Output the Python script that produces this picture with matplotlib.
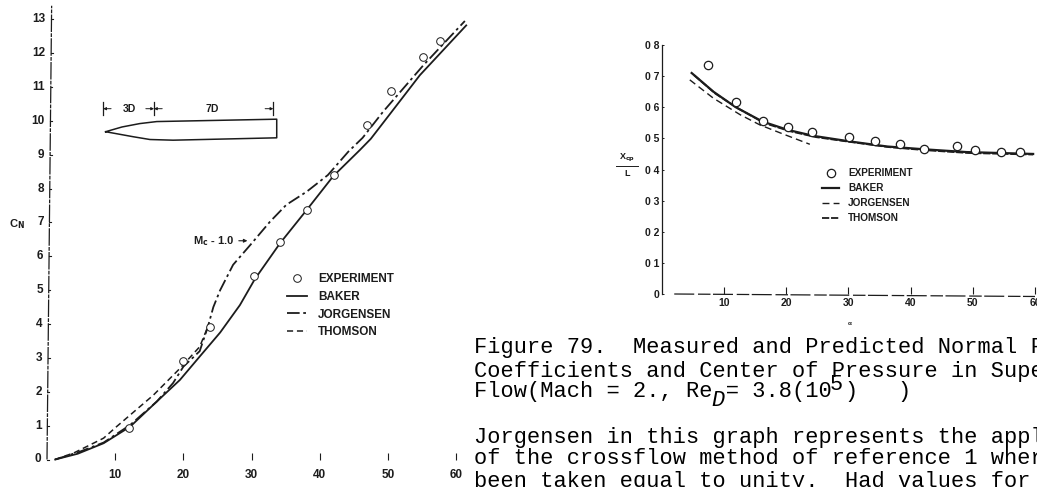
import matplotlib
matplotlib.use('Agg')
import matplotlib.pyplot as plt

W, H = 1037, 487

# left graph: normal force
exp_a = [12.1, 20.0, 23.9, 30.3, 34.2, 38.2, 42.1, 46.9, 50.5, 55.2, 57.6]
exp_cn = [0.94, 2.91, 3.92, 5.41, 6.43, 7.38, 8.40, 9.87, 10.89, 11.89, 12.36]
baker_a = [1.2, 4.5, 8.3, 12.2, 16.1, 19.5, 22.4, 25.4, 28.3, 30.5, 34.2, 38.1, 42.0, 45.9, 47.5, 50.3, 54.7, 61.5]
baker_cn = [0.0, 0.17, 0.48, 0.97, 1.71, 2.35, 3.04, 3.75, 4.56, 5.33, 6.39, 7.37, 8.37, 9.14, 9.47, 10.20, 11.35, 12.82]
jorg_a = [1.2, 4.8, 8.3, 12.2, 16.1, 18.5, 20.0, 22.4, 23.6, 24.4, 25.4, 27.3, 29.8, 32.7, 35.1, 38.1, 41.2, 44.2, 46.3, 49.3, 55.2, 61.3]
jorg_cn = [0.0, 0.23, 0.50, 1.02, 1.71, 2.26, 2.74, 3.20, 3.92, 4.50, 5.00, 5.75, 6.33, 7.02, 7.52, 7.91, 8.40, 9.09, 9.50, 10.27, 11.64, 12.95]
thom_a = [1.2, 4.0, 8.3, 10.2, 15.6, 19.5, 22.4, 23.6]
thom_cn = [0.0, 0.20, 0.63, 0.97, 1.90, 2.69, 3.33, 3.92]

# right graph: center of pressure
exp_b = [7.4, 11.9, 16.2, 20.3, 24.1, 30.1, 34.3, 38.3, 42.2, 47.4, 50.4, 54.6, 57.6]
exp_xcp = [0.736, 0.618, 0.556, 0.535, 0.520, 0.506, 0.490, 0.481, 0.467, 0.474, 0.463, 0.457, 0.457]
baker_b = [4.8, 8.3, 11.9, 16.2, 20.3, 24.4, 30.3, 36.2, 42.1, 49.0, 59.7]
baker_xcp = [0.710, 0.650, 0.600, 0.554, 0.527, 0.508, 0.490, 0.474, 0.465, 0.456, 0.450]
thom_b = [5.2, 8.6, 12.2, 16.5, 20.6, 24.8, 30.5, 36.5, 42.4, 49.3, 59.7]
thom_xcp = [0.703, 0.644, 0.597, 0.549, 0.523, 0.504, 0.488, 0.472, 0.462, 0.453, 0.448]
jorg_b = [4.5, 8.3, 12.6, 15.8, 19.5, 23.8]
jorg_xcp = [0.688, 0.629, 0.576, 0.543, 0.514, 0.481]

# ogive cylinder sketch, in left graph units
body_a = [8.6, 11.0, 13.6, 16.1, 33.7, 33.7, 18.5, 15.1, 12.7, 8.6]
body_cn = [9.68, 9.82, 9.92, 9.98, 10.05, 9.50, 9.43, 9.45, 9.53, 9.68]

left_xticks = [10, 20, 30, 40, 50, 60]
left_yticks = list(range(14))
right_yticks = [0, 0.1, 0.2, 0.3, 0.4, 0.5, 0.6, 0.7, 0.8]
right_ylabels = ['0', '0 1', '0 2', '0 3', '0 4', '0 5', '0 6', '0 7', '0 8']

caption = ['Figure 79.  Measured and Predicted Normal F',
           'Coefficients and Center of Pressure in Supe',
           'Flow(Mach = 2., Re = 3.8(10 )   )']
body_text = ['Jorgensen in this graph represents the appl',
             'of the crossflow method of reference 1 wher',
             'been taken equal to unity.  Had values for']

plt.rcParams['font.family'] = ['Liberation Sans', 'DejaVu Sans']
plt.rcParams['font.weight'] = 'bold'
INK = '#1c1c1c'
MONO = ['Liberation Mono', 'DejaVu Sans Mono']
PITCH = 13.17


def px_axes(fig, x0, x1, y0, y1):
    return fig.add_axes([x0 / W, 1 - y0 / H, (x1 - x0) / W, (y0 - y1) / H])


fig = plt.figure(figsize=(W / 100, H / 100), dpi=100)

# left graph
ax = px_axes(fig, 47, 456, 459.5, 19.3)
ax.set_xlim(0, 60)
ax.set_ylim(0, 13)
for s in ax.spines.values():
    s.set_visible(False)
ax.plot([0, 0.68], [0, 13.4], color=INK, lw=0.9, ls=(0, (14, 1, 3, 1)), clip_on=False)
ax.set_xticks(left_xticks)
ax.set_yticks([])
ax.tick_params(axis='x', direction='in', length=5, width=0.8, color=INK, labelsize=8.5, pad=7, labelcolor=INK)
for v in left_yticks:
    ax.text(-0.85 + v * 0.05, v, str(v), ha='right', va='center', fontsize=8.5, color=INK)
    ax.plot([v * 0.05, v * 0.05 + 0.25], [v, v], color=INK, lw=0.8, clip_on=False)

ax.plot(baker_a, baker_cn, color=INK, lw=1.3, clip_on=False, label='BAKER')
ax.plot(jorg_a, jorg_cn, color=INK, lw=1.3, ls=(0, (7, 2, 1.5, 2)), clip_on=False, label='JORGENSEN')
ax.plot(thom_a, thom_cn, color=INK, lw=1.1, ls=(0, (4, 2.5)), clip_on=False, label='THOMSON')
ax.plot(exp_a, exp_cn, 'o', mfc='white', mec=INK, mew=0.7, ms=5.5, ls='none', clip_on=False, label='EXPERIMENT')
handles, labels = ax.get_legend_handles_labels()
order = [3, 0, 1, 2]
ax.legend([handles[i] for i in order], [labels[i] for i in order], frameon=False, fontsize=8.5,
          loc='lower left', bbox_to_anchor=(0.587, 0.275), handlelength=1.7, handletextpad=0.9,
          labelspacing=0.5, borderpad=0, borderaxespad=0, labelcolor=INK)

ax.plot(body_a, body_cn, color=INK, lw=1.1)
ax.text(-4.4, 6.95, 'C$_{\\mathbf{N}}$', fontsize=8, ha='center', va='center', color=INK)
ax.text(12.05, 10.36, '3D', fontsize=7.5, ha='center', va='center', color=INK)
ax.text(24.2, 10.36, '7D', fontsize=7.5, ha='center', va='center', color=INK)
for a in [8.25, 15.7, 33.2]:
    ax.plot([a, a], [10.16, 10.56], color=INK, lw=0.9)
for a0, a1 in [(8.25, 9.4), (15.7, 14.5), (15.7, 16.9), (33.2, 32.0)]:
    ax.annotate('', xy=(a0, 10.36), xytext=(a1, 10.36),
                arrowprops=dict(arrowstyle='-|>', lw=0.7, color=INK, shrinkA=0, shrinkB=0, mutation_scale=4))
ax.annotate('M$_{\\mathbf{c}}$ - 1.0', xy=(29.4, 6.46), xytext=(24.5, 6.46), fontsize=8, va='center', ha='center', color=INK,
            arrowprops=dict(arrowstyle='-|>', lw=0.8, color=INK, shrinkA=1, shrinkB=0, mutation_scale=5))

# right graph
ax2 = px_axes(fig, 661.8, 1035, 294, 45)
ax2.set_xlim(0, 60)
ax2.set_ylim(0, 0.8)
for s in ax2.spines.values():
    s.set_visible(False)
ax2.plot([0, 0], [0, 0.8], color=INK, lw=0.9, clip_on=False)
ax2.plot([2, 60], [0, -0.008], color=INK, lw=0.9, ls=(0, (16, 3, 10, 2)), clip_on=False)
ax2.set_xticks(left_xticks)
ax2.set_yticks(right_yticks)
ax2.set_yticklabels(right_ylabels)
ax2.tick_params(axis='x', direction='in', length=5, width=0.8, color=INK, labelsize=7.5, pad=3, labelcolor=INK)
ax2.tick_params(axis='y', direction='in', length=1.5, width=0.7, color=INK, labelsize=7.5, pad=2, labelcolor=INK)
ax2.plot(baker_b, baker_xcp, color=INK, lw=1.6, clip_on=False, label='BAKER')
ax2.plot(jorg_b, jorg_xcp, color=INK, lw=1.0, ls=(0, (5, 3)), clip_on=False, label='JORGENSEN')
ax2.plot(thom_b, thom_xcp, color=INK, lw=1.3, ls=(0, (4, 1)), clip_on=False, label='THOMSON')
ax2.plot(exp_b, exp_xcp, 'o', mfc='white', mec=INK, mew=0.9, ms=6, ls='none', clip_on=False, label='EXPERIMENT')
handles, labels = ax2.get_legend_handles_labels()
ax2.legend([handles[i] for i in order], [labels[i] for i in order], frameon=False, fontsize=7.2,
           loc='lower left', bbox_to_anchor=(0.43, 0.285), handlelength=1.7, handletextpad=0.9,
           labelspacing=0.5, borderpad=0, borderaxespad=0, labelcolor=INK)
ax2.text(-5.6, 0.418, 'X$_{\\mathbf{cp}}$', fontsize=6.5, ha='center', va='bottom', color=INK)
ax2.plot([-7.3, -3.9], [0.412, 0.412], color=INK, lw=0.7, clip_on=False)
ax2.text(-5.6, 0.403, 'L', fontsize=6.5, ha='center', va='top', color=INK)
ax2.text(30.2, -0.095, '\u03b1', fontsize=4.5, ha='center', va='center', color=INK)

# typed report text, runs up to the right edge of the page
ys = [348, 372, 391]
for y, line in zip(ys, caption):
    fig.text(474 / W, 1 - y / H, line, family=MONO, weight='normal',
             fontsize=15.8, color='black', va='center', ha='left')
fig.text((474 + 18 * PITCH) / W, 1 - 400 / H, 'D', family=MONO, weight='normal', style='italic',
         fontsize=15.8, color='black', va='center', ha='left')
fig.text((474 + 27 * PITCH) / W, 1 - 384 / H, '5', family=MONO, weight='normal',
         fontsize=15.8, color='black', va='center', ha='left')
ys = [437, 459, 481]
for y, line in zip(ys, body_text):
    fig.text(474 / W, 1 - y / H, line, family=MONO, weight='normal',
             fontsize=15.8, color='black', va='center', ha='left')

fig.savefig('out.png', dpi=100)
